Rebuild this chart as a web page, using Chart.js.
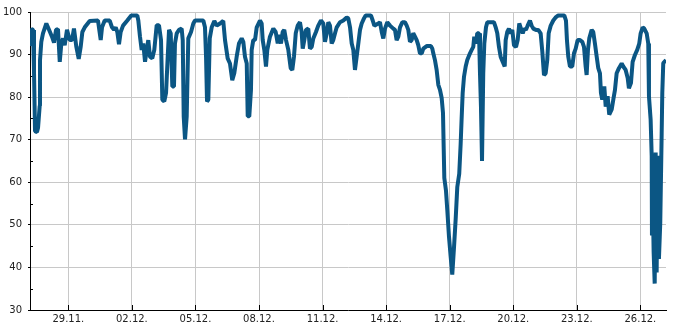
<!DOCTYPE html>
<html>
<head>
<meta charset="utf-8">
<script src="https://cdn.jsdelivr.net/npm/chart.js@4.4.1/dist/chart.umd.min.js"></script>
<style>
  html, body { margin: 0; padding: 0; background: #fff; }
  #wrap { width: 685px; height: 330px; }
</style>
</head>
<body>
<div id="wrap"><canvas id="humidityChart"></canvas></div>
<script>
// =========================
// Data (hours since 27.11. 00:00)
// =========================

const hours = [
  4.6, 6.1, 8.0, 9.1, 10.3, 12.5, 13.7, 15.6, 15.9, 17.4, 19.3, 23.1, 25.8, 29.5, 31.8, 34.1,
  36.3, 38.3, 40.1, 42.0, 43.9, 46.5, 49.6, 52.2, 54.4, 57.1, 59.8, 62.0, 63.9, 66.6, 72.2, 81.6,
  84.7, 86.2, 89.2, 94.9, 97.5, 99.8, 101.7, 103.5, 105.4, 107.3, 110.0, 114.8, 119.3, 126.1,
  127.3, 129.2, 131.1, 132.9, 134.9, 136.8, 138.6, 140.5, 143.1, 145.4, 148.1, 150.7, 153.0,
  154.5, 156.7, 158.7, 160.6, 162.1, 164.0, 165.8, 167.7, 168.8, 170.8, 173.4, 176.4, 177.6,
  178.7, 180.2, 182.1, 183.9, 187.0, 189.6, 191.5, 200.9, 202.8, 204.0, 205.1, 206.6, 208.2,
  210.4, 213.4, 216.1, 219.8, 223.5, 225.5, 228.5, 231.1, 233.7, 236.0, 238.7, 241.3, 244.4,
  246.2, 248.1, 250.1, 251.2, 253.0, 254.9, 255.7, 257.5, 259.5, 261.4, 265.1, 267.0, 268.2,
  270.0, 271.9, 273.4, 276.4, 280.2, 282.9, 285.2, 287.0, 288.9, 290.8, 292.6, 294.6, 297.2,
  299.9, 301.7, 303.6, 305.6, 307.8, 310.4, 312.3, 313.5, 315.3, 317.2, 319.8, 321.7, 323.7,
  325.5, 328.5, 331.1, 334.2, 336.8, 338.7, 340.7, 342.5, 344.4, 346.3, 348.1, 350.1, 352.0,
  355.7, 359.5, 363.3, 365.1, 367.1, 369.0, 370.8, 372.7, 374.6, 376.5, 378.4, 380.3, 382.9,
  384.8, 390.8, 392.8, 394.6, 399.1, 401.0, 403.0, 404.8, 406.7, 409.3, 412.4, 416.1, 418.0,
  419.9, 421.8, 423.7, 426.3, 429.3, 431.3, 433.1, 435.0, 436.9, 438.7, 440.7, 442.6, 444.4,
  446.3, 448.3, 450.1, 453.9, 458.8, 460.3, 461.4, 463.3, 465.2, 467.1, 469.0, 470.9, 472.4,
  473.2, 473.9, 475.8, 477.3, 479.2, 481.1, 482.9, 484.8, 486.8, 488.6, 490.8, 492.4, 493.6,
  494.7, 496.2, 498.1, 499.9, 503.0, 504.9, 506.7, 507.8, 509.8, 511.2, 513.2, 514.3, 515.4,
  516.6, 518.0, 519.2, 521.1, 522.6, 530.1, 532.1, 533.9, 535.8, 537.7, 540.0, 542.3, 543.4,
  545.2, 547.1, 549.1, 550.9, 552.8, 555.1, 557.0, 558.8, 560.7, 562.7, 564.5, 566.4, 568.3,
  570.9, 572.8, 574.7, 577.7, 580.3, 583.0, 584.9, 586.8, 588.7, 590.5, 592.1, 594.4, 597.3,
  600.4, 603.0, 609.8, 611.7, 612.8, 614.3, 616.2, 618.8, 620.8, 622.7, 624.9, 627.6, 630.2,
  632.1, 634.0, 635.1, 636.6, 638.1, 640.8, 642.6, 644.5, 646.5, 648.3, 650.2, 651.3, 652.8,
  655.1, 656.7, 658.9, 660.7, 663.5, 665.3, 667.2, 669.1, 671.7, 674.8, 676.6, 679.3, 681.6,
  683.0, 685.3, 687.2, 689.8, 692.4, 694.7, 696.3, 698.6, 700.4, 703.1, 704.9, 705.7, 707.6,
  708.8, 709.1, 709.9, 711.0, 712.2, 713.3, 714.4, 715.6, 717.0, 718.5, 720.1, 720.8, 721.9, 725.0
];

const values = [
  92, 96, 95.8, 86.4, 72, 71.8, 72.8, 78, 88.6, 93, 95, 97.3, 96, 94.2, 92.8, 95.8,
  96, 88.3, 92.6, 93.8, 92.2, 95.8, 93.4, 93.4, 96.1, 91.8, 89, 91.8, 95.3, 96.4, 97.9, 98,
  93.4, 96.4, 98, 98, 96.4, 95.8, 96.4, 95.3, 92.4, 95.3, 96.8, 98, 99.2, 99.2,
  98, 94.2, 91.1, 92.6, 88.3, 91.1, 93.4, 89.5, 89.1, 91.1, 96.9, 96.9, 93.4,
  79.4, 79, 81, 89.5, 95.8, 95, 82.5, 82.5, 92.6, 95, 95.8, 96.1, 93.4,
  75.5, 70.1, 75.5, 93.8, 95.3, 97.3, 98, 98, 96.4, 89.5, 79, 79.4, 93.8,
  96.4, 97.9, 96.8, 97.3, 97.9, 93.4, 89.1, 87.9, 84, 85.6, 89.5, 92.6, 93.8,
  93, 89.5, 87.9, 75.5, 75.5, 81.7, 91.1, 93.4, 93.4, 96.4, 98, 97.3, 93.4,
  91.1, 87.2, 91.1, 94.2, 96.1, 95.3, 92.6, 94.6, 92.6, 95.3, 95.8, 93.4, 91.1,
  86.8, 86.4, 89.5, 95, 96.8, 97.6, 95.3, 91.4, 93.4, 95.8, 96.1, 91.4, 91.8,
  93.8, 95.3, 96.8, 98, 97.3, 93, 95, 97.6, 96.8, 92.6, 93.4, 95, 96.4,
  97.6, 98, 98.7, 98.5, 96.4, 92.6, 91.1, 86.4, 89.5, 92.6, 95.8, 97.3, 98.5,
  99.2, 99.2, 98, 96.8, 97.3, 97.6, 95.3, 93.8, 96.1, 97.6, 96.8, 96.1, 95.8,
  93.4, 94.2, 96.4, 97.6, 97.6, 96.8, 95.8, 93, 93.4, 95, 94.2, 93.4, 92.2,
  90.3, 90.3, 91.4, 92, 92, 91.4, 90.3, 88.7, 86.4, 82.9, 81.7, 79.8, 76.3,
  68, 61, 58, 53.4, 47.2, 42.5, 38.3, 44.5, 51.5, 58.9, 62, 69, 75.5,
  81, 84.8, 87.2, 88.7, 90.3, 91.1, 91.8, 94.2, 92.6, 95, 95, 85.6, 77.8,
  65, 85.6, 92.6, 96.4, 97.6, 97.6, 96.4, 95, 91.8, 89.5, 88.3, 87.2, 93.4,
  95.3, 96.1, 95, 95.8, 92.2, 91.8, 93.4, 97.3, 96.1, 95, 96.1, 95.8, 96.8,
  98, 96.8, 96.1, 95.8, 95.8, 95, 90.7, 85.2, 85.6, 88.7, 95, 96.8, 98,
  98.8, 99.2, 99.2, 98, 93.4, 89.5, 87.2, 87.2, 90.3, 91.4, 93.4, 93.4, 93,
  91.8, 87.2, 85.2, 91.1, 93.8, 95.8, 95.3, 92.6, 89.5, 86.8, 85.6, 81, 79.4,
  82.5, 77.8, 80.2, 75.9, 77.1, 79.4, 81.7, 85.6, 86.8, 87.9, 87.2, 86.4, 84.5,
  82.1, 83.3, 88.3, 89.9, 91.1, 92.6, 95, 96.4, 96.1, 95, 92.6, 80.2, 74.7,
  66.2, 47.5, 57.6, 43.6, 36.2, 67, 38.8, 66.2, 42, 50.5, 71.5, 81, 88, 88.7
];

const tickHours  = [48, 120, 192, 264, 336, 408, 480, 552, 624, 696];
const tickLabels = ["29.11.", "02.12.", "05.12.", "08.12.", "11.12.", "14.12.", "17.12.", "20.12.", "23.12.", "26.12."];
const minorY     = [35, 45, 55, 65, 75, 85, 95];

// =========================
// Inner tick marks (drawn through the chart scales)
// =========================

const innerTicks = {
  id: "innerTicks",
  beforeDatasetsDraw(chart) {
    const { ctx, chartArea, scales } = chart;
    ctx.save();
    ctx.strokeStyle = "#000";
    ctx.lineWidth = 1;
    ctx.beginPath();
    minorY.forEach(v => {
      const y = Math.round(scales.y.getPixelForValue(v)) + 0.5;
      ctx.moveTo(chartArea.left, y);
      ctx.lineTo(chartArea.left + 3, y);
    });
    tickHours.forEach(h => {
      const x = Math.round(scales.x.getPixelForValue(h)) + 0.5;
      ctx.moveTo(x, chartArea.bottom);
      ctx.lineTo(x, chartArea.bottom - 5);
    });
    ctx.stroke();
    ctx.restore();
  }
};

// =========================
// Create Chart
// =========================

Chart.defaults.font.family = "'DejaVu Sans', sans-serif";
Chart.defaults.font.size = 10;
Chart.defaults.color = "#222";

const ctx = document.getElementById("humidityChart").getContext("2d");

new Chart(ctx, {
  type: "line",
  data: {
    datasets: [{
      data: hours.map((h, i) => ({ x: h, y: values[i] })),
      borderColor: "#0b5684",
      borderWidth: 4,
      borderJoinStyle: "bevel",
      pointRadius: 0,
      fill: false,
      tension: 0
    }]
  },
  options: {
    responsive: true,
    maintainAspectRatio: false,
    animation: false,
    layout: { padding: { top: 10, right: 19, left: 0, bottom: 0 } },
    plugins: {
      legend: { display: false },
      tooltip: { enabled: false }
    },
    scales: {
      x: {
        type: "linear",
        min: 4.6,
        max: 725,
        afterBuildTicks: scale => { scale.ticks = tickHours.map(v => ({ value: v })); },
        afterFit: scale => { scale.height = 20; },
        ticks: {
          padding: 3,
          maxRotation: 0,
          autoSkip: false,
          callback: (v, i) => tickLabels[i]
        },
        grid: { color: "#c8c8c8", drawTicks: false },
        border: { color: "#000", width: 1 }
      },
      y: {
        min: 30,
        max: 100,
        afterFit: scale => { scale.width = 30; },
        ticks: {
          stepSize: 5,
          padding: 6,
          callback: v => (v % 10 === 0 ? v : "")
        },
        grid: {
          color: c => (c.tick && c.tick.value % 10 === 0 ? "#c8c8c8" : "rgba(0,0,0,0)"),
          tickColor: c => (c.tick && c.tick.value % 10 === 0 ? "#000" : "rgba(0,0,0,0)"),
          tickLength: 2
        },
        border: { color: "#000", width: 1 }
      }
    }
  },
  plugins: [innerTicks]
});
</script>
</body>
</html>
